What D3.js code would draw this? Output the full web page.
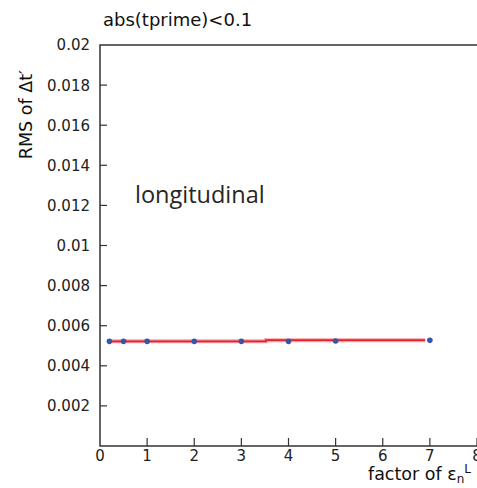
<!DOCTYPE html>
<html>
<head>
<meta charset="utf-8">
<script src="https://cdn.jsdelivr.net/npm/d3@7"></script>
<style>
	body { margin: 0; background: #fff; }
	svg { display: block; }
</style>
</head>
<body>
<script>
// data
var factors = [0.2, 0.5, 1, 2, 3, 4, 5, 7];
var rmsValues = [0.00522, 0.00522, 0.00522, 0.00522, 0.00522, 0.00522, 0.00524, 0.00527];
// the red fit line is drawn as flat steps
var fitFrom = [0.17, 3.52];
var fitTo = [3.52, 6.9];
var fitValues = [0.00522, 0.00528];
var xTicks = [0, 1, 2, 3, 4, 5, 6, 7, 8];
var yTicks = [0.002, 0.004, 0.006, 0.008, 0.01, 0.012, 0.014, 0.016, 0.018, 0.02];

var width = 477, height = 488;
var plotL = 100, plotR = 477, plotT = 45, plotB = 446;

var svg = d3.select("body").append("svg")
	.attr("width", width)
	.attr("height", height);

var x = d3.scaleLinear().domain([0, 8]).range([plotL, plotR]);
var y = d3.scaleLinear().domain([0, 0.02]).range([plotB, plotT]);

var axisColor = "#333";
var font = "DejaVu Sans, sans-serif";

// frame: left axis, bottom axis and top line
svg.append("path")
	.attr("d", "M" + plotR + "," + plotT + "H" + plotL + "V" + plotB + "H" + plotR)
	.attr("fill", "none")
	.attr("stroke", axisColor)
	.attr("stroke-width", 1.5);

// y ticks (inward) and labels
svg.append("g").selectAll("line")
	.data(yTicks.slice(0, -1))
	.enter().append("line")
		.attr("x1", plotL).attr("x2", plotL + 7)
		.attr("y1", function(d){ return y(d); })
		.attr("y2", function(d){ return y(d); })
		.attr("stroke", axisColor)
		.attr("stroke-width", 1.2);

svg.append("g").selectAll("text")
	.data(yTicks)
	.enter().append("text")
		.attr("x", 90)
		.attr("y", function(d){ return y(d); })
		.attr("dy", "0.36em")
		.attr("text-anchor", "end")
		.style("font-family", font)
		.style("font-size", "15px")
		.style("fill", "#222")
		.text(function(d){ return d3.format("~g")(d); });

// x ticks (inward) and labels
svg.append("g").selectAll("line")
	.data(xTicks.slice(1))
	.enter().append("line")
		.attr("x1", function(d){ return x(d); })
		.attr("x2", function(d){ return x(d); })
		.attr("y1", plotB).attr("y2", plotB - 8)
		.attr("stroke", axisColor)
		.attr("stroke-width", 1.2);

svg.append("g").selectAll("text")
	.data(xTicks)
	.enter().append("text")
		.attr("x", function(d){ return x(d); })
		.attr("y", 461)
		.attr("text-anchor", "middle")
		.style("font-family", font)
		.style("font-size", "15px")
		.style("fill", "#222")
		.text(function(d){ return d; });

// fit line: pink halo under a red line
var fitPts = [];
fitValues.forEach(function(v, i){
	fitPts.push([x(fitFrom[i]), y(v)]);
	fitPts.push([x(fitTo[i]), y(v)]);
});
var stepLine = d3.line()
	.x(function(d){ return d[0]; })
	.y(function(d){ return d[1]; });
svg.append("path")
	.attr("d", stepLine(fitPts))
	.attr("fill", "none")
	.attr("stroke", "#f5a3a8")
	.attr("stroke-width", 4);
svg.append("path")
	.attr("d", stepLine(fitPts))
	.attr("fill", "none")
	.attr("stroke", "#e8202a")
	.attr("stroke-width", 1.8);

// points
svg.append("g").selectAll("circle")
	.data(factors)
	.enter().append("circle")
		.attr("cx", function(d){ return x(d); })
		.attr("cy", function(d, i){ return y(rmsValues[i]); })
		.attr("r", 2.8)
		.attr("fill", "#3656a8");

// title
svg.append("text")
	.attr("x", 103)
	.attr("y", 26)
	.style("font-family", font)
	.style("font-size", "18px")
	.style("fill", "#111")
	.text("abs(tprime)<0.1");

// y label
svg.append("text")
	.attr("transform", "translate(32,70)rotate(-90)")
	.attr("text-anchor", "end")
	.style("font-family", font)
	.style("font-size", "17.5px")
	.style("fill", "#111")
	.text("RMS of Δt′");

// x label
var xl = svg.append("text")
	.attr("x", 471)
	.attr("y", 480)
	.attr("text-anchor", "end")
	.style("font-family", font)
	.style("font-size", "17.5px")
	.style("fill", "#111");
xl.append("tspan").text("factor of ε");
xl.append("tspan").attr("dy", 3).style("font-size", "12px").text("n");
xl.append("tspan").attr("dy", -10).style("font-size", "12px").text("L");

// annotation
svg.append("text")
	.attr("x", 135)
	.attr("y", 203)
	.style("font-family", "Open Sans, sans-serif")
	.style("font-size", "23.5px")
	.style("fill", "#262626")
	.text("longitudinal");
</script>
</body>
</html>
